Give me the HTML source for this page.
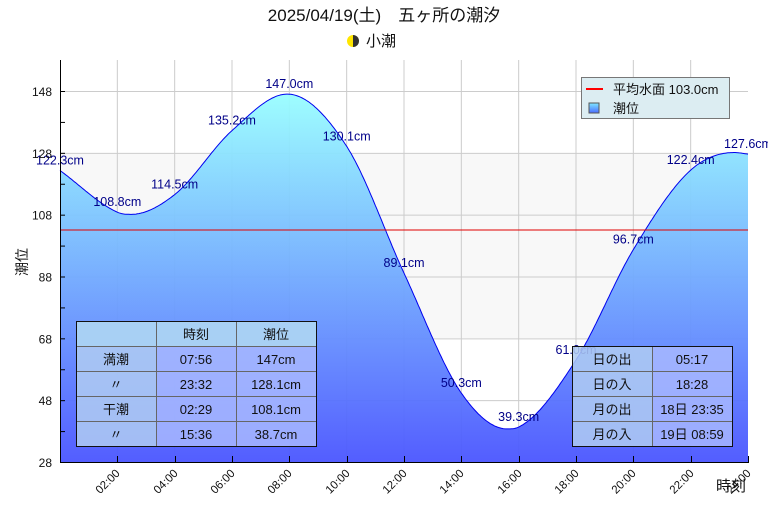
<!DOCTYPE html>
<html><head><meta charset="utf-8"><style>
body{margin:0;background:#fff;}
svg{display:block;font-family:"Liberation Sans","Noto Sans CJK JP",sans-serif;}
</style></head><body>
<svg id="s" width="768" height="512" xmlns="http://www.w3.org/2000/svg">
<defs>
<linearGradient id="fillg" gradientUnits="userSpaceOnUse" x1="0" y1="91" x2="0" y2="462">
<stop offset="0" stop-color="#99ffff"/><stop offset="1" stop-color="#4a55ff"/>
</linearGradient>
<linearGradient id="lg" x1="0" y1="0" x2="0" y2="1"><stop offset="0" stop-color="#7fe8ff"/><stop offset="1" stop-color="#4a6cff"/></linearGradient>
</defs>
<text x="384" y="21" font-size="17" text-anchor="middle" fill="#111">2025/04/19(土)　五ヶ所の潮汐</text>
<circle cx="353" cy="41" r="6" fill="#ffe600"/>
<path d="M353 35 A6 6 0 0 1 353 47 Z" fill="#333"/>
<text x="366" y="46" font-size="15" fill="#111">小潮</text>
<rect x="60" y="153" width="688" height="185" fill="#f8f8f8"/>
<g id="grid" stroke="#cccccc" stroke-width="1"></g>
<path id="area" fill="url(#fillg)" fill-opacity="0.95"/>
<path id="line" fill="none" stroke="#0000ee" stroke-width="1"/>
<line x1="60" y1="230" x2="748" y2="230" stroke="#e00000" stroke-width="1"/>
<g id="axes" stroke="#000" stroke-width="1"></g>
<g id="lbl" font-size="12.5" fill="#000088" text-anchor="middle"></g>
<g id="ylab" font-size="12" fill="#111" text-anchor="end"></g>
<g id="xlab" font-size="11.5" fill="#111"></g>
<text x="27" y="262" font-size="14" fill="#111" transform="rotate(-90 27 262)" text-anchor="middle">潮位</text>
<text x="716" y="491" font-size="15" fill="#111">時刻</text>
<rect x="581.5" y="77.5" width="148" height="41" fill="#dcedf2" stroke="#777"/>
<line x1="586" y1="89" x2="603" y2="89" stroke="red" stroke-width="2"/>
<text x="613" y="94" font-size="13" fill="#111">平均水面 103.0cm</text>
<rect x="589" y="103" width="10" height="10" fill="url(#lg)" stroke="#555"/>
<text x="613" y="113" font-size="13" fill="#111">潮位</text>
<g font-size="13" fill="#111" text-anchor="middle">
<rect x="76.5" y="321.5" width="80" height="125" fill="#b0ccf2" fill-opacity="0.85"/>
<rect x="156.5" y="321.5" width="160" height="125" fill="#a8b8ff" fill-opacity="0.85"/>
<rect x="76.5" y="321.5" width="240" height="25" fill="#a8d0f4"/>
<g stroke="#666"><line x1="156.5" y1="321" x2="156.5" y2="446"/><line x1="236.5" y1="321" x2="236.5" y2="446"/>
<line x1="76" y1="346.5" x2="316" y2="346.5"/><line x1="76" y1="371.5" x2="316" y2="371.5"/><line x1="76" y1="396.5" x2="316" y2="396.5"/><line x1="76" y1="421.5" x2="316" y2="421.5"/></g>
<rect x="76.5" y="321.5" width="240" height="125" fill="none" stroke="#111"/>
<text x="196" y="339">時刻</text><text x="276" y="339">潮位</text>
<text x="116" y="364">満潮</text><text x="196" y="364">07:56</text><text x="276" y="364">147cm</text>
<text x="116" y="389">〃</text><text x="196" y="389">23:32</text><text x="276" y="389">128.1cm</text>
<text x="116" y="414">干潮</text><text x="196" y="414">02:29</text><text x="276" y="414">108.1cm</text>
<text x="116" y="439">〃</text><text x="196" y="439">15:36</text><text x="276" y="439">38.7cm</text>
<rect x="572.5" y="346.5" width="80" height="100" fill="#b0ccf2" fill-opacity="0.85"/>
<rect x="652.5" y="346.5" width="80" height="100" fill="#a8b8ff" fill-opacity="0.85"/>
<g stroke="#666"><line x1="652.5" y1="346" x2="652.5" y2="446"/><line x1="572" y1="371.5" x2="732" y2="371.5"/><line x1="572" y1="396.5" x2="732" y2="396.5"/><line x1="572" y1="421.5" x2="732" y2="421.5"/></g>
<rect x="572.5" y="346.5" width="160" height="100" fill="none" stroke="#111"/>
<text x="612" y="364">日の出</text><text x="692" y="364">05:17</text>
<text x="612" y="389">日の入</text><text x="692" y="389">18:28</text>
<text x="612" y="414">月の出</text><text x="692" y="414">18日 23:35</text>
<text x="612" y="439">月の入</text><text x="692" y="439">19日 08:59</text>
</g>
</svg>
<script>
var NS="http://www.w3.org/2000/svg";
function X(h){return 60+h*688/24;}
function Y(v){return 462-(v-28)*371/120;}
var P=[[0,122.3],[2,108.8],[2.48,108.1],[4,114.5],[6,135.2],[7.93,147],[10,130.1],[12,89.1],[14,50.3],[15.6,38.7],[16,39.3],[18,61],[20,96.7],[22,122.4],[23.53,128.1],[24,127.6]];
var n=P.length,m=[],dl=[];
for(var i=0;i<n-1;i++)dl.push((P[i+1][1]-P[i][1])/(P[i+1][0]-P[i][0]));
m[0]=dl[0];m[n-1]=dl[n-2];
for(var i=1;i<n-1;i++){m[i]=(dl[i-1]*dl[i]<=0)?0:(dl[i-1]+dl[i])/2;}
for(var i=0;i<n-1;i++){if(dl[i]==0){m[i]=m[i+1]=0;continue;}var a=m[i]/dl[i],b=m[i+1]/dl[i],s=a*a+b*b;if(s>9){var t=3/Math.sqrt(s);m[i]=t*a*dl[i];m[i+1]=t*b*dl[i];}}
function val(t){for(var i=0;i<n-1;i++){if(t<=P[i+1][0]+1e-9){var h=P[i+1][0]-P[i][0],u=(t-P[i][0])/h,u2=u*u,u3=u2*u;
return (2*u3-3*u2+1)*P[i][1]+(u3-2*u2+u)*h*m[i]+(-2*u3+3*u2)*P[i+1][1]+(u3-u2)*h*m[i+1];}}return P[n-1][1];}
var d="";for(var t=0;t<=24.0001;t+=0.05){d+=(t==0?"M":"L")+X(t).toFixed(1)+" "+Y(val(t)).toFixed(1);}
document.getElementById("line").setAttribute("d",d);
document.getElementById("area").setAttribute("d",d+"L748 462L60 462Z");
function el(p,nm,a,txt){var e=document.createElementNS(NS,nm);for(var k in a)e.setAttribute(k,a[k]);if(txt)e.textContent=txt;document.getElementById(p).appendChild(e);}
for(var h=2;h<=22;h+=2){el("grid","line",{x1:X(h),x2:X(h),y1:60,y2:462});}
[48,68,88,108,128,148].forEach(function(v){el("grid","line",{x1:60,x2:748,y1:Y(v)+.5,y2:Y(v)+.5});
el("ylab","text",{x:52,y:Y(v)+5},String(v));});
el("ylab","text",{x:52,y:467},"28");
el("axes","line",{x1:60.5,y1:60,x2:60.5,y2:463});
el("axes","line",{x1:60,y1:462.5,x2:749,y2:462.5});
for(var v=38;v<158;v+=10){el("axes","line",{x1:60,x2:65,y1:Y(v)+.5,y2:Y(v)+.5});}
for(var h=2;h<=24;h+=2){var x=Math.round(X(h))+.5;el("axes","line",{x1:x,x2:x,y1:456,y2:462});
var lab=(h<10?"0":"")+h+":00";el("xlab","text",{x:x+3,y:474,"text-anchor":"end",transform:"rotate(-45 "+(x+3)+" 474)"},lab);}
var L=[[0,122.3],[2,108.8],[4,114.5],[6,135.2],[8,147.0],[10,130.1],[12,89.1],[14,50.3],[16,39.3],[18,61.0],[20,96.7],[22,122.4],[24,127.6]];
L.forEach(function(l){el("lbl","text",{x:X(l[0]),y:Y(l[1])-6},l[1].toFixed(1)+"cm");});
</script>
</body></html>
